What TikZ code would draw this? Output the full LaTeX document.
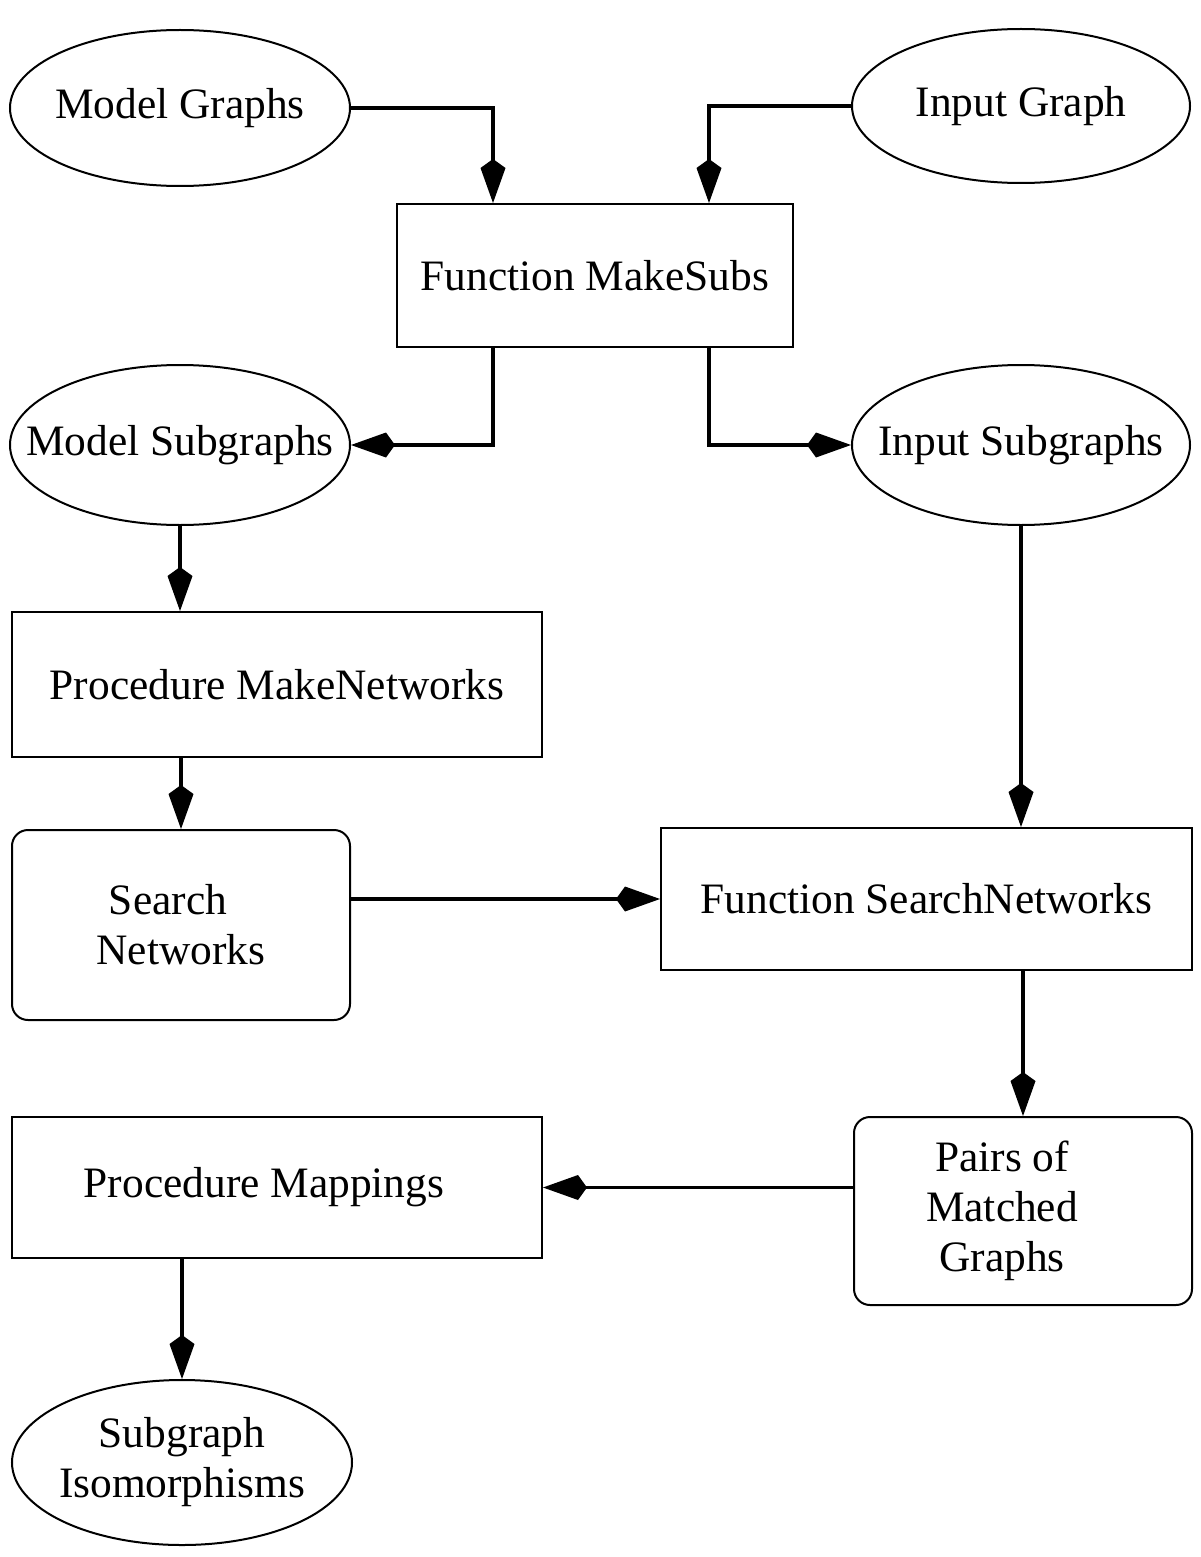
\documentclass[tikz,border=0pt]{standalone}
\usepackage{fontspec}
\setmainfont{Liberation Serif}
\usetikzlibrary{shapes.geometric,arrows.meta,positioning}
\begin{document}
\begin{tikzpicture}[x=0.5pt,y=-0.5pt,
  every node/.style={font=\fontsize{21.7pt}{25pt}\selectfont, align=center, inner sep=0pt},
  every label/.style={font=\fontsize{21.7pt}{25pt}\selectfont, align=center, inner sep=0pt},
  oval/.style={draw, line width=1pt, ellipse, inner xsep=-30pt, inner ysep=-5pt, minimum width=170pt, minimum height=78pt},
  sqbox/.style={draw, line width=1pt, rectangle},
  rbox/.style={draw, line width=1pt, rectangle, rounded corners=8pt},
  conn/.style={line width=1.6pt, -{Kite[length=22pt,width=12.5pt,inset=4.5pt]}}
]
\useasboundingbox (0,0) rectangle (1200,1557);
\node[oval] (mg) at (180,108) {Model Graphs};
\node[oval, minimum width=169pt, minimum height=77pt] (ig) at (1021,106) {Input Graph};
\node[sqbox, minimum width=198pt, minimum height=71.5pt] (ms) at (595,275.5) {Function MakeSubs};
\node[oval, minimum height=80pt] (msg) at (180,445) {Model Subgraphs};
\node[oval, minimum width=169pt, minimum height=80pt] (isg) at (1021,445) {Input Subgraphs};
\node[sqbox, minimum width=265pt, minimum height=72.5pt] (mn) at (277,684.5) {Procedure MakeNetworks};
\node[rbox, minimum width=169pt, minimum height=95pt] (sn) at (181,925) {Search\hspace*{13pt}\\Networks};
\node[sqbox, minimum width=265.5pt, minimum height=71pt] (fsn) at (926.5,899) {Function SearchNetworks};
\node[sqbox, minimum width=265pt, minimum height=70.5pt] (pm) at (277,1187.5) {Procedure Mappings\hspace*{13pt}};
\node[rbox, minimum width=169pt, minimum height=94pt,
      label={[xshift=-10.5pt]center:Pairs of\\Matched\\Graphs}] (pmg) at (1023,1211) {};
\node[oval, minimum height=82.5pt] (si) at (182,1462.5) {Subgraph\\Isomorphisms};

\draw[conn] (mg.east) -| ([xshift=-51pt]ms.north);
\draw[conn] (ig.west) -| ([xshift=57pt]ms.north);
\draw[conn] ([xshift=-51pt]ms.south) |- (msg.east);
\draw[conn] ([xshift=57pt]ms.south) |- (isg.west);
\draw[conn] (msg.south) -- (msg.south |- mn.north);
\draw[conn] (mn.south -| sn.north) -- (sn.north);
\draw[conn] (isg.south) -- (isg.south |- fsn.north);
\draw[conn] (sn.east |- fsn.west) -- (fsn.west);
\draw[conn] (fsn.south -| pmg.north) -- (pmg.north);
\draw[conn] (pmg.west |- pm.east) -- (pm.east);
\draw[conn] (pm.south -| si.north) -- (si.north);
\end{tikzpicture}
\end{document}
